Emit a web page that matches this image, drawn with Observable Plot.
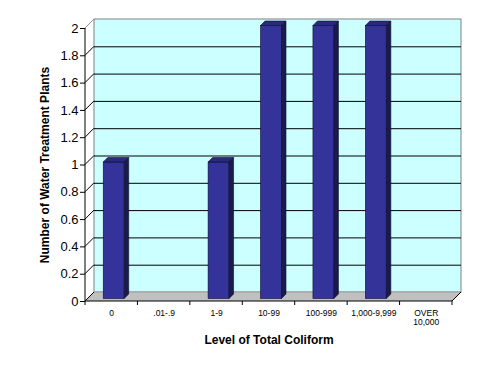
<!DOCTYPE html>
<html>
<head>
<meta charset="utf-8">
<script src="https://cdn.jsdelivr.net/npm/d3@7"></script>
<script src="https://cdn.jsdelivr.net/npm/@observablehq/plot@0.6"></script>
<style>
  html, body { margin: 0; padding: 0; background: #fff; }
  #chart svg { display: block; }
</style>
</head>
<body>
<div id="chart"></div>
<script>
// ---- data ----
const categories = ["0", ".01-.9", "1-9", "10-99", "100-999", "1,000-9,999", "OVER\n10,000"];
const counts = [1, 0, 1, 2, 2, 2, 0];
const yTicks = [0, 0.2, 0.4, 0.6, 0.8, 1, 1.2, 1.4, 1.6, 1.8, 2];
const xTitle = "Level of Total Coliform";
const yTitle = "Number of Water Treatment Plants";

const rows = categories.map((c, i) => ({category: c, count: counts[i]}));

// ---- styling ----
const DEPTH = 9;        // depth of the 3-D box (px)
const SHIFT = 2.5;      // bar front shift into depth
const BDEPTH = 4.5;     // bar depth
const wallFill = "#CCFFFF";
const floorFill = "#C0C0C0";
const barFront = "#333399";
const barTopFill = "#29297d";
const barSideFill = "#1a1a4d";
const font = "'Liberation Sans', Arial, sans-serif";

function grp() { return d3.create("svg:g"); }
function bandwidthOf(x) { return typeof x.bandwidth === "function" ? x.bandwidth() : x.bandwidth; }

function wallMark(index, scales, values, dim) {
  const L = dim.marginLeft, R = dim.width - dim.marginRight;
  const top = scales.y(2), bot = scales.y(0);
  const el = grp();
  el.append("rect")
    .attr("x", L + DEPTH).attr("y", top - DEPTH)
    .attr("width", R - L).attr("height", bot - top)
    .attr("fill", wallFill).attr("stroke", "#808080").attr("stroke-width", 1);
  return el.node();
}

function floorMark(index, scales, values, dim) {
  const L = dim.marginLeft, R = dim.width - dim.marginRight;
  const y0 = scales.y(0);
  const el = grp();
  el.append("path")
    .attr("d", `M${L},${y0}L${R},${y0}L${R + DEPTH},${y0 - DEPTH}L${L + DEPTH},${y0 - DEPTH}Z`)
    .attr("fill", floorFill).attr("stroke", "none");
  el.append("line")
    .attr("x1", L + DEPTH).attr("x2", R + DEPTH).attr("y1", y0 - DEPTH).attr("y2", y0 - DEPTH)
    .attr("stroke", "#a0a0a0").attr("stroke-width", 1);
  return el.node();
}

function axisDecor(index, scales, values, dim) {
  const L = dim.marginLeft, R = dim.width - dim.marginRight;
  const y0 = scales.y(0), y2 = scales.y(2);
  const el = grp();
  for (const t of yTicks) {
    const y = scales.y(t);
    el.append("line")
      .attr("x1", L).attr("y1", y).attr("x2", L + DEPTH).attr("y2", y - DEPTH)
      .attr("stroke", t === 2 ? "#909090" : "#000").attr("stroke-width", 1);
  }
  el.append("line")
    .attr("x1", R).attr("y1", y0).attr("x2", R + DEPTH).attr("y2", y0 - DEPTH)
    .attr("stroke", "#000").attr("stroke-width", 1);
  el.append("line")
    .attr("x1", L).attr("x2", L).attr("y1", y2).attr("y2", y0)
    .attr("stroke", "#000").attr("stroke-width", 1);
  el.append("line")
    .attr("x1", L).attr("x2", R).attr("y1", y0).attr("y2", y0)
    .attr("stroke", "#000").attr("stroke-width", 1);
  const bw = bandwidthOf(scales.x);
  const bounds = categories.map(c => scales.x(c)).concat([scales.x(categories[categories.length - 1]) + bw]);
  for (const bx of bounds) {
    el.append("line")
      .attr("x1", bx).attr("x2", bx).attr("y1", y0).attr("y2", y0 + 4)
      .attr("stroke", "#000").attr("stroke-width", 1);
  }
  return el.node();
}

function barsMark(index, scales, values, dim) {
  const el = grp();
  const bw = bandwidthOf(scales.x);
  const w = bw * 0.40;
  for (const d of rows) {
    if (!(d.count > 0)) continue;
    const x0 = scales.x(d.category) + (bw - w) / 2 + SHIFT;
    const x1 = x0 + w;
    const yb = scales.y(0) - SHIFT;
    const yt = scales.y(d.count) - SHIFT;
    el.append("rect")
      .attr("x", x0).attr("y", yt).attr("width", w).attr("height", yb - yt)
      .attr("fill", barFront).attr("stroke", "#0d0d33").attr("stroke-width", 0.6);
    el.append("path")
      .attr("d", `M${x0},${yt}L${x0 + BDEPTH},${yt - BDEPTH}L${x1 + BDEPTH},${yt - BDEPTH}L${x1},${yt}Z`)
      .attr("fill", barTopFill).attr("stroke", "#0d0d33").attr("stroke-width", 0.6);
    el.append("path")
      .attr("d", `M${x1},${yt}L${x1 + BDEPTH},${yt - BDEPTH}L${x1 + BDEPTH},${yb - BDEPTH}L${x1},${yb}Z`)
      .attr("fill", barSideFill).attr("stroke", "#0d0d33").attr("stroke-width", 0.6);
  }
  return el.node();
}

const chart = Plot.plot({
  width: 491,
  height: 374,
  marginLeft: 85,
  marginRight: 39,
  marginTop: 28,
  marginBottom: 73,
  style: {fontFamily: font, background: "#fff", color: "#000"},
  x: {type: "band", domain: categories, paddingInner: 0, paddingOuter: 0, round: false, axis: null},
  y: {domain: [0, 2], axis: null},
  marks: [
    wallMark,
    Plot.ruleY(yTicks.filter(t => t > 0 && t < 2), {dx: DEPTH, dy: -DEPTH, stroke: "#000", strokeWidth: 1}),
    floorMark,
    axisDecor,
    barsMark,
    Plot.axisY(yTicks, {
      tickSize: 5, tickPadding: 2, fontSize: 13, label: null,
      tickFormat: d => String(+d.toFixed(1))
    }),
    Plot.axisX({tickSize: 0, tickPadding: 8, fontSize: 8.5, label: null, lineHeight: 1.1}),
    Plot.text([xTitle], {frameAnchor: "bottom", dy: 42, fontSize: 12, fontWeight: "bold"}),
    Plot.text([yTitle], {frameAnchor: "left", dx: -40, rotate: -90, textAnchor: "middle", fontSize: 12, fontWeight: "bold"})
  ]
});
document.getElementById("chart").appendChild(chart);
</script>
</body>
</html>
